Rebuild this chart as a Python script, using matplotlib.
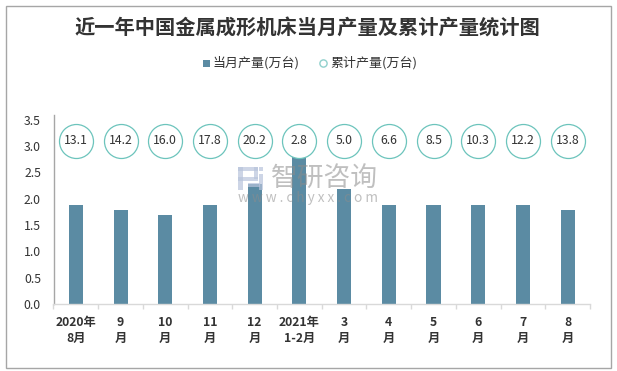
import matplotlib
matplotlib.use("Agg")
import matplotlib.pyplot as plt
from matplotlib.patches import Rectangle

plt.rcParams['font.family'] = ['Noto Sans CJK SC', 'DejaVu Sans']

categories = ['2020年\n8月', '9\n月', '10\n月', '11\n月', '12\n月', '2021年\n1-2月',
              '3\n月', '4\n月', '5\n月', '6\n月', '7\n月', '8\n月']
monthly = [1.88, 1.79, 1.69, 1.88, 2.28, 2.8, 2.19, 1.88, 1.88, 1.88, 1.88, 1.79]
cumulative = [13.1, 14.2, 16.0, 17.8, 20.2, 2.8, 5.0, 6.6, 8.5, 10.3, 12.2, 13.8]
yticks = [0.0, 0.5, 1.0, 1.5, 2.0, 2.5, 3.0, 3.5]
title = '近一年中国金属成形机床当月产量及累计产量统计图'

W, H = 617, 371
BAR = '#5b8ba3'
CIRC = '#6cc4bc'
TXT = '#333333'

fig = plt.figure(figsize=(W/100, H/100), dpi=100)
fig.patch.set_facecolor('white')
fig.add_artist(Rectangle((5.5/W, 1-367.5/H), 605/W, 362/H, transform=fig.transFigure,
                         fill=False, ec='#a6a6a6', lw=1.0))

left, right, top, bottom = 53.5, 590, 115, 304
ax = fig.add_axes([left/W, 1-bottom/H, (right-left)/W, (bottom-top)/H])
ax.set_xlim(-0.5, 11.5)
ax.set_ylim(0, (bottom-top)/52.6)
x = list(range(len(categories)))
ax.bar(x, monthly, width=0.315, color=BAR, zorder=2)
circle_y = 3.1
ax.scatter(x, [circle_y]*len(x), s=(34*0.72)**2, facecolor='white', edgecolor=CIRC,
           linewidth=0.9, zorder=3)
for xi, v in zip(x, cumulative):
    ax.text(xi, circle_y, f'{v:.1f}', ha='center', va='center', fontsize=8.8, color=TXT, zorder=4)

for s in ('top', 'right'):
    ax.spines[s].set_visible(False)
ax.spines['left'].set_color('#a6a6a6')
ax.spines['bottom'].set_color('#d9d9d9')
ax.spines['left'].set_linewidth(1)
ax.spines['bottom'].set_linewidth(1)
ax.set_yticks(yticks)
ax.set_yticklabels([f'{t:.1f}' for t in yticks], fontsize=8.8, color=TXT)
ax.tick_params(axis='y', length=0, pad=9)
ax.set_xticks([i-0.5 for i in range(13)], minor=False)
ax.set_xticklabels([])
ax.tick_params(axis='x', length=3.6, color='#d9d9d9', width=1)
for xi, c in zip(x, categories):
    ax.annotate(c, (xi, 0), xycoords=('data', 'data'), xytext=(0, -8.5), textcoords='offset points',
                ha='center', va='top', fontsize=8.8, fontweight='bold', color=TXT, linespacing=1.3)

fig.text(307.5/W, 1-28/H, title, ha='center', va='center', fontsize=14.6, fontweight='bold', color='#333333')

# legend
fig.add_artist(Rectangle((203/W, 1-67/H), 7/W, 7.5/H, transform=fig.transFigure, fc=BAR, ec='none'))
fig.text(213/W, 1-63/H, '当月产量(万台)', ha='left', va='center', fontsize=9.35, color=TXT)
fig.add_artist(plt.Line2D([323/W], [1-63/H], marker='o', ms=5.2, mfc='white', mec='#8fd0cc', mew=1,
                          transform=fig.transFigure))
fig.text(330/W, 1-63/H, '累计产量(万台)', ha='left', va='center', fontsize=9.35, color=TXT)

# watermark
wm_fill = '#b9c4dc'
for (a, b, c, d) in [(238, 167, 5, 23), (238, 167, 20, 4), (254, 167, 4, 12), (238, 177, 20, 4),
                     (248, 183, 12, 4), (259, 167, 4, 4), (259, 174, 4, 16)]:
    fig.add_artist(Rectangle((a/W, 1-(b+d)/H), c/W, d/H, transform=fig.transFigure,
                             fc=wm_fill, ec='none', alpha=0.7, zorder=5))
fig.text(271/W, 1-178/H, '智研咨询', ha='left', va='center', fontsize=19.3, color='#8c8c8c', alpha=0.55, zorder=5)
fig.text(238/W, 1-198/H, 'w w w . c h y x x . c o m', ha='left', va='center', fontsize=9.8,
         color='#8c8c8c', alpha=0.55, zorder=5)

fig.savefig('out.png', dpi=100)
